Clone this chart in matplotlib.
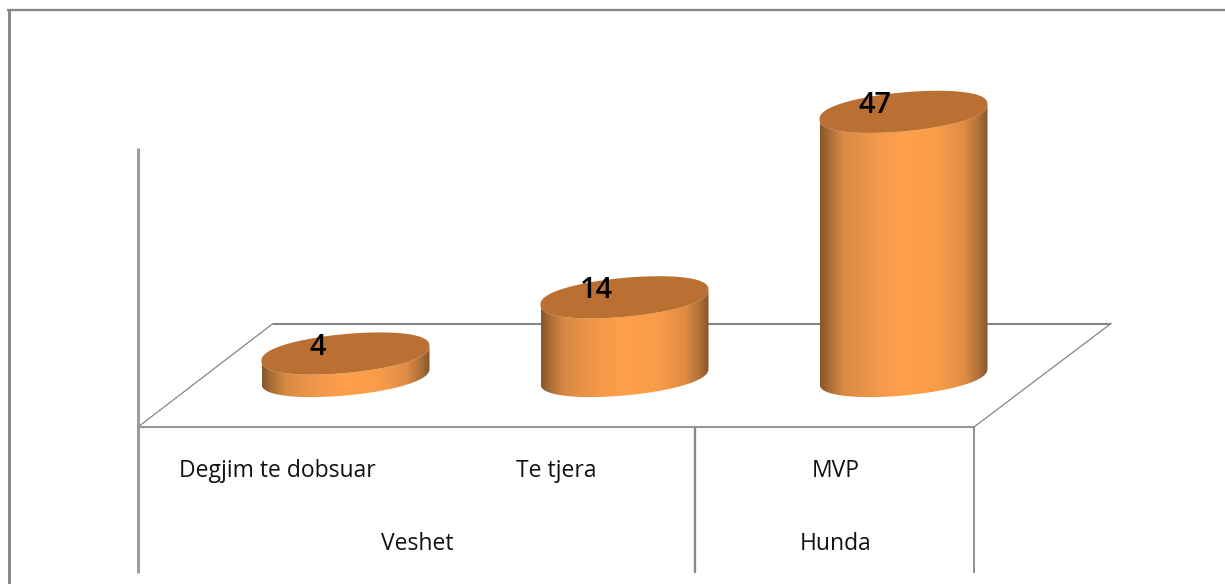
import numpy as np
import matplotlib
matplotlib.use('Agg')
import matplotlib.pyplot as plt
from matplotlib.colors import LinearSegmentedColormap
from matplotlib.patches import PathPatch, Polygon
from matplotlib.path import Path

categories = ['Degjim te dobsuar', 'Te tjera', 'MVP']
groups = ['Veshet', 'Hunda']
group_spans = [(0, 1), (2, 2)]
values = [4, 14, 47]

W, H = 1225, 584

# layout in pixels of the picture
BASE_Y = 376        # centre of the bar bottoms
PX_PER_UNIT = 5.62
FIRST_X = 345.5
STEP_X = 279
RX = 84             # ellipse half width
RY = 19.5
TILT = 7.5          # left side of the ellipse sits lower than the right
ROUND = 0.85        # below 1 makes the ellipse a bit fuller at the sides
TABLE_TOP = 427
TABLE_BOTTOM = 573
TEXT_SHIFT = -68

side_cmap = LinearSegmentedColormap.from_list('side', [
    (0.00, '#85562a'), (0.05, '#a86c35'), (0.14, '#d98a44'), (0.35, '#f4994a'),
    (0.50, '#ffa04a'), (0.70, '#f99c49'), (0.86, '#e08c45'), (0.95, '#ac6f37'),
    (1.00, '#85562a')])
TOP_COLOR = '#bb7033'
LINE_COLOR = '#868686'


def ellipse(cx, cy, t):
    c, s = np.cos(t), np.sin(t)
    x = cx + RX * c
    y = cy - TILT * c + RY * np.sign(s) * np.abs(s) ** ROUND
    return x, y


def draw_cylinder(ax, cx, value):
    top_y = BASE_Y - value * PX_PER_UNIT
    # side: front of the bottom ellipse, then back along the top one
    t = np.linspace(np.pi, 0, 120)
    bx, by = ellipse(cx, BASE_Y, t)
    tx, ty = ellipse(cx, top_y, t[::-1])
    verts = np.vstack([np.column_stack([bx, by]), np.column_stack([tx, ty])])
    side = PathPatch(Path(verts), fc='none', ec='none')
    ax.add_patch(side)
    grad = np.linspace(0, 1, 256).reshape(1, -1)
    im = ax.imshow(grad, cmap=side_cmap, aspect='auto', zorder=2,
                   extent=(cx - RX, cx + RX, BASE_Y + RY + 3, top_y - RY - 3))
    im.set_clip_path(side)
    # top face
    t = np.linspace(0, 2 * np.pi, 240)
    ex, ey = ellipse(cx, top_y, t)
    ax.add_patch(Polygon(np.column_stack([ex, ey]), fc=TOP_COLOR, ec='none', zorder=3))
    return top_y


fig = plt.figure(figsize=(W / 100, H / 100), dpi=100)
ax = fig.add_axes([0, 0, 1, 1])
ax.axis('off')

# outer chart frame, only left and top are in the crop
ax.plot([8.5, 8.5], [584, 9], color=LINE_COLOR, lw=2.1, solid_capstyle='butt')
ax.plot([7, 1225], [10, 10], color=LINE_COLOR, lw=1.7, solid_capstyle='butt')

# value axis and floor
ax.plot([137.5, 137.5], [148, TABLE_BOTTOM], color='#9a9a9a', lw=2.1, solid_capstyle='butt')
ax.plot([138, 273], [TABLE_TOP, 323.5], color=LINE_COLOR, lw=0.9)
ax.plot([273, 1111], [323.5, 323.5], color=LINE_COLOR, lw=1.5, solid_capstyle='butt')
ax.plot([1111, 974], [323.5, TABLE_TOP], color=LINE_COLOR, lw=0.9)

# category table under the floor
ax.plot([137, 974], [TABLE_TOP, TABLE_TOP], color='#979797', lw=1.5, solid_capstyle='butt')
ax.plot([695, 695], [TABLE_TOP, TABLE_BOTTOM], color=LINE_COLOR, lw=1.7, solid_capstyle='butt')
ax.plot([974, 974], [TABLE_TOP, TABLE_BOTTOM], color=LINE_COLOR, lw=1.3, solid_capstyle='butt')

centers = [FIRST_X + i * STEP_X for i in range(len(values))]
for cx, val in zip(centers, values):
    top_y = draw_cylinder(ax, cx, val)
    ax.text(cx - 28, top_y - 6.5, str(val), fontsize=21, family='Open Sans', weight='semibold',
            ha='center', va='center', color='black', zorder=4)

for cx, name in zip(centers, categories):
    ax.text(cx + TEXT_SHIFT, 471, name, fontsize=16.5, family='Open Sans',
            ha='center', va='center', color='#111111')

for name, (a, b) in zip(groups, group_spans):
    ax.text((centers[a] + centers[b]) / 2 + TEXT_SHIFT, 544, name, fontsize=16.5, family='Open Sans',
            ha='center', va='center', color='#111111')

ax.set_xlim(0, W)
ax.set_ylim(H, 0)

fig.savefig('out.png', dpi=100, facecolor='white')
